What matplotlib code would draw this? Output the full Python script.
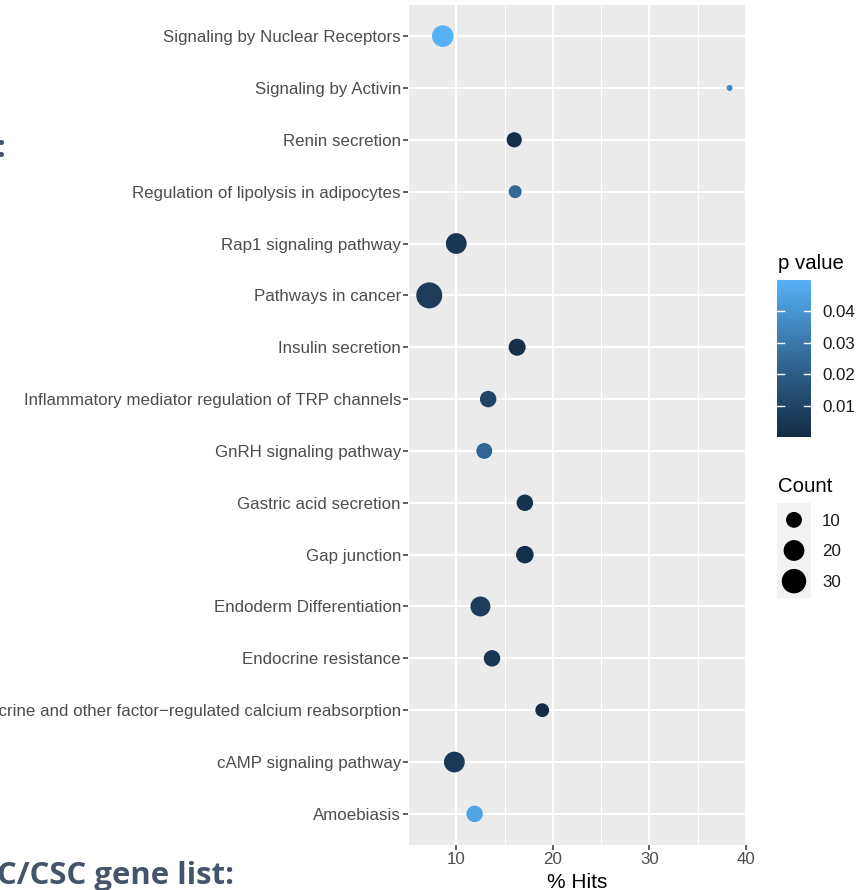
import numpy as np
import matplotlib.pyplot as plt
from matplotlib.colors import LinearSegmentedColormap

# data, listed top to bottom as in the chart
pathways = ["Signaling by Nuclear Receptors", "Signaling by Activin", "Renin secretion",
            "Regulation of lipolysis in adipocytes", "Rap1 signaling pathway", "Pathways in cancer",
            "Insulin secretion", "Inflammatory mediator regulation of TRP channels",
            "GnRH signaling pathway", "Gastric acid secretion", "Gap junction",
            "Endoderm Differentiation", "Endocrine resistance",
            "Endocrine and other factor\u2212regulated calcium reabsorption",
            "cAMP signaling pathway", "Amoebiasis"]
hits = [8.6, 38.3, 16.0, 16.1, 10.0, 7.2, 16.3, 13.3, 12.9, 17.1, 17.1, 12.5, 13.7, 18.9, 9.8, 11.9]
counts = [22, 2, 9, 6, 20, 35, 12, 11, 10, 11, 13, 18, 11, 7, 20, 11]
pvals = [0.0498, 0.036, 0.002, 0.025, 0.005, 0.007, 0.002, 0.010, 0.023, 0.003, 0.002,
         0.007, 0.005, 0.0002, 0.006, 0.045]
x_ticks = [10, 20, 30, 40]
p_ticks = [0.01, 0.02, 0.03, 0.04]
legend_counts = [10, 20, 30]

W, H = 867, 890
DPI = 100
cmap = LinearSegmentedColormap.from_list("gg", ["#132B43", "#336A98", "#56B1F7"])
cmin, cmax = min(counts), max(counts)


def marker_area(c):
    # ggplot-like area scale, size range 1..6
    size = 1 + 5 * np.sqrt((np.asarray(c, float) - cmin) / (cmax - cmin))
    d_px = 2 + 4 * size
    return (d_px * 72 / DPI) ** 2


def fx(px):
    return px / W


def fy(py):
    return 1 - py / H


plt.rcParams['font.family'] = ['Liberation Sans', 'DejaVu Sans']
fig = plt.figure(figsize=(W / DPI, H / DPI), dpi=DPI)

ax = fig.add_axes([fx(408), fy(845), fx(746) - fx(408), fy(5) - fy(845)])
ax.set_facecolor("#EBEBEB")
n = len(pathways)
ypos = np.arange(n)[::-1] + 1
sc = ax.scatter(hits, ypos, s=marker_area(counts), c=pvals, cmap=cmap,
                vmin=min(pvals), vmax=max(pvals), linewidths=0, zorder=3)

xr = max(hits) - min(hits)
ax.set_xlim(min(hits) - 0.05 * xr, max(hits) + 0.05 * xr)
ax.set_ylim(0.4, n + 0.6)
ax.set_xticks(x_ticks)
ax.set_xticks([5, 15, 25, 35], minor=True)
ax.set_yticks(ypos)
ax.set_yticklabels(pathways)
ax.grid(which="major", color="white", lw=1.5, zorder=1)
ax.grid(which="minor", axis="x", color="white", lw=0.75, zorder=1)
for s in ax.spines.values():
    s.set_visible(False)
ax.tick_params(which="major", length=3.6, width=1.1, color="#333333",
               labelcolor="#4D4D4D", labelsize=12.2, pad=1.5)
ax.tick_params(which="minor", length=0)
ax.set_xlabel("% Hits", fontsize=15, color="black", labelpad=4)

# colour bar
cax = fig.add_axes([fx(777), fy(437), fx(811) - fx(777), fy(280) - fy(437)])
cb = fig.colorbar(sc, cax=cax)
cb.outline.set_visible(False)
cb.set_ticks(p_ticks)
cb.set_ticklabels(["%.2f" % t for t in p_ticks])
cax.tick_params(length=0, labelsize=12.2, labelcolor="#1A1A1A", pad=8)
for t in p_ticks:
    cax.plot([0, 0.2], [t, t], color="white", lw=1, transform=cax.get_yaxis_transform())
    cax.plot([0.8, 1], [t, t], color="white", lw=1, transform=cax.get_yaxis_transform())
fig.text(fx(778), fy(263), "p value", fontsize=14.7, va="center", ha="left")

# size legend
lax = fig.add_axes([fx(777), fy(598), fx(811) - fx(777), fy(503) - fy(598)])
lax.set_facecolor("#F2F2F2")
ly = np.arange(len(legend_counts))[::-1]
lax.scatter([0.5] * len(legend_counts), ly, s=marker_area(legend_counts), color="black", linewidths=0)
lax.set_xlim(0, 1)
lax.set_ylim(-0.55, len(legend_counts) - 0.45)
lax.set_xticks([])
lax.set_yticks(ly)
lax.set_yticklabels([str(c) for c in legend_counts])
lax.yaxis.tick_right()
lax.tick_params(length=0, labelsize=12.2, labelcolor="#1A1A1A", pad=8)
for s in lax.spines.values():
    s.set_visible(False)
fig.text(fx(778), fy(487), "Count", fontsize=14.7, va="center", ha="left")

# slide text around the chart (cut off in the original)
fig.text(fx(-3), fy(884), "C/CSC gene list:", fontsize=22.4, fontweight="bold",
         color="#44546A", family=["Open Sans", "DejaVu Sans"], ha="left", va="baseline")
fig.text(fx(5), fy(157), ":", fontsize=22, fontweight="bold",
         color="#44546A", family=["Open Sans", "DejaVu Sans"], ha="right", va="baseline")

fig.savefig("out.png", dpi=DPI)
